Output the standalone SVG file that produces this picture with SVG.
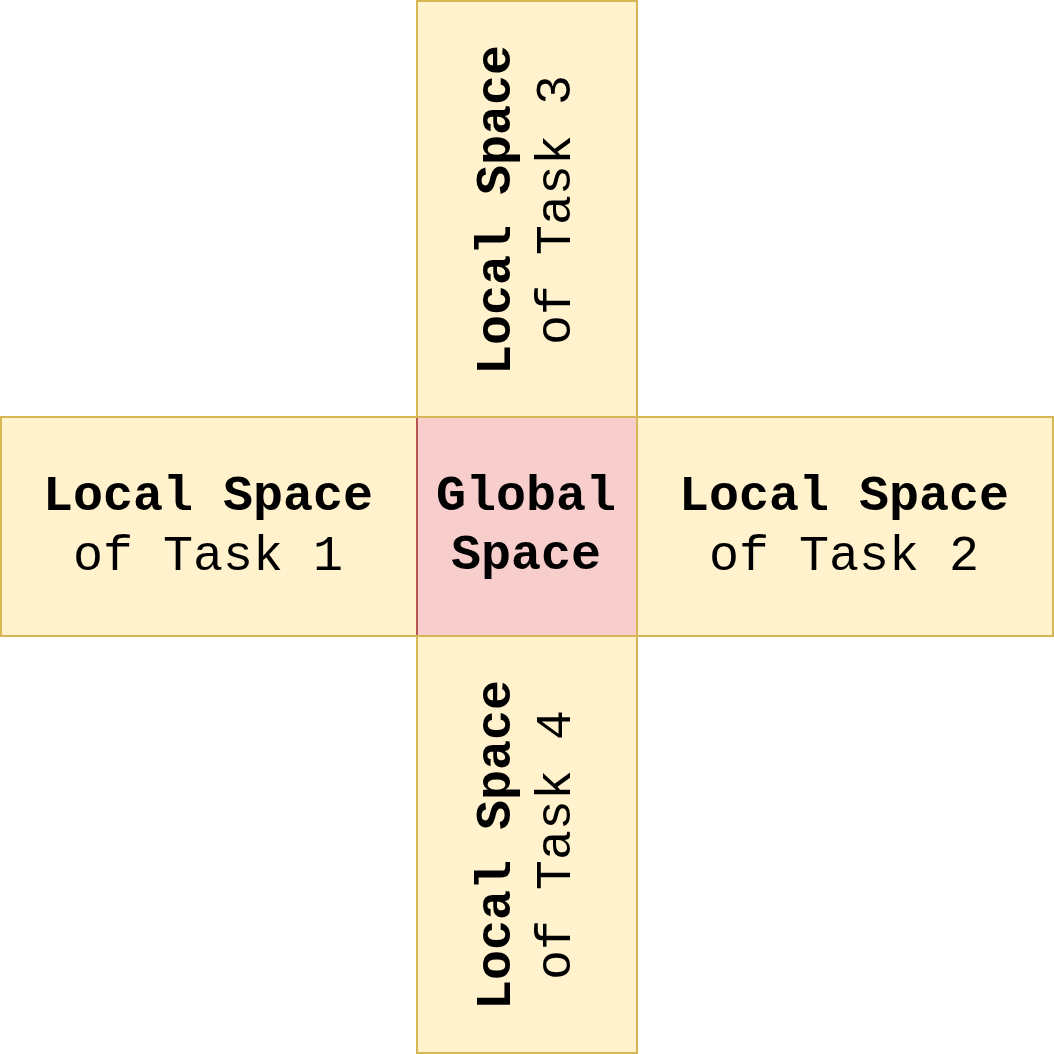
<svg xmlns="http://www.w3.org/2000/svg" width="1054" height="1054" viewBox="0 0 1054 1054">
<style>
.local{fill:#fff2cc;stroke:#d6b656;stroke-width:2}
.global{fill:#f8cecc;stroke:#b85450;stroke-width:2}
text{font-family:"Courier New","Nimbus Mono PS","FreeMono","Liberation Mono",monospace;font-size:50px;fill:#000;text-anchor:middle}
.b{font-weight:bold}
</style>
<rect width="1054" height="1054" fill="#ffffff"/>
<g id="task1">
<rect class="local" x="1" y="417" width="416" height="219"/>
<text x="208" y="510" class="b">Local Space</text>
<text x="208" y="570">of Task 1</text>
</g>
<g id="global">
<rect class="global" x="417" y="417" width="220" height="219"/>
<text x="526" y="510" class="b">Global</text>
<text x="526" y="569" class="b">Space</text>
</g>
<g id="task3">
<rect class="local" x="417" y="1" width="220" height="416"/>
<g transform="translate(527,210) rotate(-90)">
<text x="0" y="-17" class="b">Local Space</text>
<text x="0" y="43">of Task 3</text>
</g>
</g>
<g id="task2">
<rect class="local" x="637" y="417" width="416" height="219"/>
<text x="844" y="510" class="b">Local Space</text>
<text x="844" y="570">of Task 2</text>
</g>
<g id="task4">
<rect class="local" x="417" y="636" width="220" height="417"/>
<g transform="translate(527,845) rotate(-90)">
<text x="0" y="-17" class="b">Local Space</text>
<text x="0" y="43">of Task 4</text>
</g>
</g>
<g id="connectors"/>
</svg>
